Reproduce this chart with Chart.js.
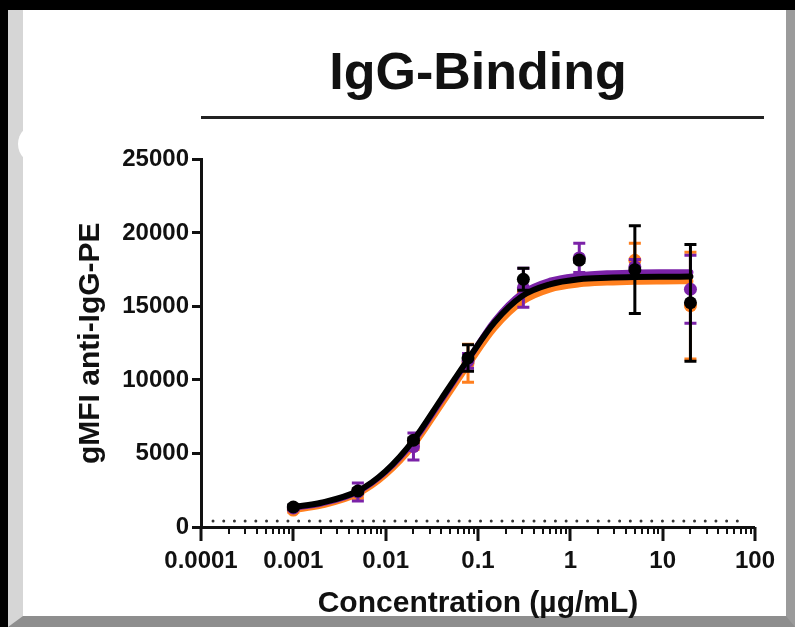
<!DOCTYPE html>
<html>
<head>
<meta charset="utf-8">
<script src="https://cdn.jsdelivr.net/npm/chart.js@4/dist/chart.umd.min.js"></script>
<style>
  html, body { margin: 0; padding: 0; }
  body { width: 795px; height: 627px; overflow: hidden; background: #000; position: relative; }
  #panel {
    position: absolute; left: 8px; top: 10px; width: 787px; height: 617px;
    box-sizing: border-box; background: #fff;
    border-left: 15px solid #d6d6d6; border-right: 9px solid #9b9b9b; border-bottom: 11px solid #8e8e8e;
  }
  #blob { position: absolute; left: 18px; top: 124px; width: 40px; height: 40px; border-radius: 50%; background: #fff; }
  #c { position: absolute; left: 0; top: 0; }
</style>
</head>
<body>
<div id="panel"></div>
<div id="blob"></div>
<canvas id="c" width="795" height="627"></canvas>
<script>
// concentraciones (µg/mL) de los puntos medidos
const concentrations = [0.001, 0.005, 0.02, 0.078, 0.31, 1.25, 5, 20];

// medias y desviaciones
const purpleMean = [1300, 2380, 5470, 11300, 16270, 18300, 17700, 16170];
const purpleSd   = [150, 610, 920, 500, 1320, 1000, 500, 2310];
const orangeMean = [1150, 2250, 5570, 11140, 15900, 16780, 18140, 15050];
const orangeSd   = [150, 300, 300, 1290, 300, 200, 1150, 3630];
const blackMean  = [1360, 2450, 5900, 11500, 16850, 18150, 17500, 15250];
const blackSd    = [150, 150, 150, 900, 750, 150, 2980, 3970];

const curveX      = [0.001, 0.002, 0.005, 0.01, 0.02, 0.04, 0.08, 0.15, 0.3, 0.6, 1.25, 2.5, 5, 10, 20];
const blackCurve  = [1350, 1650, 2450, 3800, 5900, 8700, 11500, 13900, 15700, 16500, 16850, 16950, 17000, 17020, 17030];
const purpleCurve = [1300, 1600, 2400, 3750, 5800, 8600, 11450, 14000, 15900, 16750, 17100, 17250, 17300, 17320, 17330];
const orangeCurve = [1150, 1450, 2250, 3550, 5550, 8300, 11100, 13500, 15300, 16150, 16500, 16620, 16680, 16700, 16710];

// línea punteada de fondo
const baselineX = [0.000135, 80];
const baselineY = 400;

// ejes
const xMajorTicks = [0.0001, 0.001, 0.01, 0.1, 1, 10, 100];
const xTickLabels = ["0.0001", "0.001", "0.01", "0.1", "1", "10", "100"];
const yTicks = [0, 5000, 10000, 15000, 20000, 25000];

const PURPLE = "#7b22a8", ORANGE = "#ff7f1e", BLACK = "#000";
const FONT = "'Liberation Sans', Arial, sans-serif";

const xTickValues = [];
xMajorTicks.forEach((m, i) => {
  xTickValues.push(m);
  if (i < xMajorTicks.length - 1) for (let k = 2; k <= 9; k++) xTickValues.push(m * k);
});
const isMajor = v => xMajorTicks.includes(v);

const pts = (xs, ys) => xs.map((x, i) => ({x, y: ys[i]}));

function pointSet(data, sd, color, order) {
  return { data: pts(concentrations, data), sd, showLine: false, order,
    pointRadius: 6.5, pointBackgroundColor: color, pointBorderColor: color, borderColor: color, pointBorderWidth: 0 };
}
function curveSet(ys, color, order) {
  return { data: pts(curveX, ys), order, borderColor: color, borderWidth: 6, pointRadius: 0,
    cubicInterpolationMode: "monotone", borderCapStyle: "round", fill: false };
}

// barras de error dibujadas justo antes de los puntos de cada serie
const errorBars = {
  id: "errorBars",
  beforeDatasetDraw(chart, args) {
    const ds = chart.data.datasets[args.index];
    if (!ds.sd) return;
    const {ctx, scales: {x, y}} = chart;
    ctx.save();
    ctx.strokeStyle = ds.borderColor; ctx.lineWidth = 3;
    ds.data.forEach((p, i) => {
      const px = x.getPixelForValue(p.x);
      const top = y.getPixelForValue(p.y + ds.sd[i]);
      const bot = y.getPixelForValue(p.y - ds.sd[i]);
      ctx.beginPath();
      ctx.moveTo(px, top); ctx.lineTo(px, bot);
      ctx.moveTo(px - 6, top); ctx.lineTo(px + 6, top);
      ctx.moveTo(px - 6, bot); ctx.lineTo(px + 6, bot);
      ctx.stroke();
    });
    ctx.restore();
  }
};

// marcas del eje x: largas en décadas, cortas el resto
const xTickMarks = {
  id: "xTickMarks",
  afterDraw(chart) {
    const {ctx, scales: {x}} = chart;
    ctx.save(); ctx.strokeStyle = "#111";
    x.ticks.forEach(t => {
      const px = Math.round(x.getPixelForValue(t.value));
      const major = isMajor(t.value);
      ctx.lineWidth = major ? 3 : 2;
      ctx.beginPath(); ctx.moveTo(px, x.top); ctx.lineTo(px, x.top + (major ? 14 : 7)); ctx.stroke();
    });
    ctx.restore();
  }
};

// raya bajo el título
const titleRule = {
  id: "titleRule",
  afterDraw(chart) {
    const {ctx, chartArea} = chart;
    ctx.save(); ctx.fillStyle = "#222";
    ctx.fillRect(chartArea.left, 116, chartArea.right - chartArea.left + 9, 3);
    ctx.restore();
  }
};

new Chart(document.getElementById("c"), {
  type: "line",
  data: {
    datasets: [
      pointSet(blackMean, blackSd, BLACK, 0),
      curveSet(blackCurve, BLACK, 1),
      pointSet(purpleMean, purpleSd, PURPLE, 2),
      curveSet(purpleCurve, PURPLE, 3),
      pointSet(orangeMean, orangeSd, ORANGE, 4),
      curveSet(orangeCurve, ORANGE, 5),
      { data: baselineX.map(x => ({x, y: baselineY})), order: 10, borderColor: "#333", borderWidth: 3,
        borderDash: [0, 10.7], borderCapStyle: "round", pointRadius: 0 }
    ]
  },
  options: {
    responsive: false, animation: false, devicePixelRatio: 1, events: [],
    layout: { padding: { left: 0, right: 36, top: 0, bottom: 0 } },
    plugins: {
      legend: { display: false }, tooltip: { enabled: false },
      title: { display: true, text: "IgG-Binding", fullSize: false, color: "#111",
        font: { family: FONT, size: 52, weight: "bold" }, padding: { top: 43, bottom: 54 } }
    },
    scales: {
      x: {
        type: "logarithmic", min: 0.0001, max: 100,
        afterBuildTicks: s => { s.ticks = xTickValues.map(v => ({value: v})); },
        afterFit: s => { s.height = 100; },
        ticks: { autoSkip: false, maxRotation: 0, padding: 20, color: "#111",
          font: { family: FONT, size: 24, weight: "bold" },
          callback: v => { const i = xMajorTicks.indexOf(v); return i >= 0 ? xTickLabels[i] : ""; } },
        grid: { drawOnChartArea: false, drawTicks: false },
        border: { color: "#111", width: 3 },
        title: { display: true, text: "Concentration (µg/mL)", color: "#111",
          font: { family: FONT, size: 30, weight: "bold" }, padding: { top: 0, bottom: 5 } }
      },
      y: {
        min: 0, max: 25000,
        afterBuildTicks: s => { s.ticks = yTicks.map(v => ({value: v})); },
        afterFit: s => { s.width = 201; },
        ticks: { padding: 3, color: "#111", font: { family: FONT, size: 24, weight: "bold" },
          callback: v => String(v) },
        grid: { drawOnChartArea: false, tickLength: 9, tickWidth: 3, tickColor: "#111" },
        border: { color: "#111", width: 3 },
        title: { display: true, text: "gMFI anti-IgG-PE", color: "#111",
          font: { family: FONT, size: 30, weight: "bold" }, padding: { top: 73, bottom: 0 } }
      }
    }
  },
  plugins: [errorBars, xTickMarks, titleRule]
});
</script>
</body>
</html>
